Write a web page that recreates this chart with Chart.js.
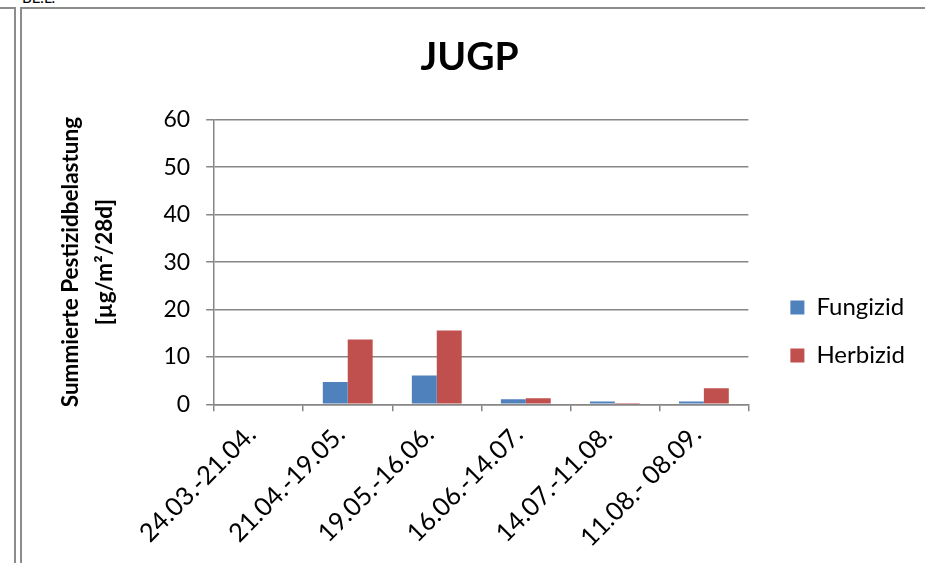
<!DOCTYPE html>
<html>
<head>
<meta charset="utf-8">
<script src="https://cdn.jsdelivr.net/npm/chart.js@4/dist/chart.umd.min.js"></script>
<style>
  html, body { margin: 0; padding: 0; background: #fff; }
  body { width: 925px; height: 563px; position: relative; overflow: hidden; font-family: Lato, sans-serif; }
  #wrap { position: absolute; left: 0; top: 0; width: 925px; height: 563px; }
  .ln { position: absolute; background: #8c8c8c; }
  .cut { position: absolute; left: 22px; top: -12px; font-size: 15px; color: #000; }
</style>
</head>
<body>
<div class="cut">BE.L.</div>
<div class="ln" style="left:0;top:7px;width:16px;height:2px"></div>
<div class="ln" style="left:20px;top:7px;width:905px;height:2px"></div>
<div class="ln" style="left:14px;top:7px;width:2px;height:556px"></div>
<div class="ln" style="left:20px;top:7px;width:2px;height:556px"></div>
<div id="wrap"><canvas id="chart" width="925" height="563"></canvas></div>
<script>
const categories = ['24.03.-21.04.', '21.04.-19.05.', '19.05.-16.06.', '16.06.-14.07.', '14.07.-11.08.', '11.08.- 08.09.'];
const fungizid = [0.2, 4.7, 6.1, 1.1, 0.6, 0.6];
const herbizid = [0, 13.7, 15.6, 1.3, 0.1, 3.4];
const yTicks = [0, 10, 20, 30, 40, 50, 60];

const gridColor = '#868686';
const font = 'Lato';

// moves title / legend boxes after layout so they sit like in the original
const nudge = {
  id: 'nudge',
  afterLayout(chart, args, opts) {
    const l = chart.legend;
    if (l) { l.left += opts.legendX; l.right += opts.legendX; l.top += opts.legendY; l.bottom += opts.legendY; }
    const t = chart.titleBlock;
    if (t) { t.left += opts.titleX; t.right += opts.titleX; }
  }
};

new Chart(document.getElementById('chart'), {
  type: 'bar',
  data: {
    labels: categories,
    datasets: [
      { label: 'Fungizid', data: fungizid, backgroundColor: '#4F81BD' },
      { label: 'Herbizid', data: herbizid, backgroundColor: '#C0504D' }
    ]
  },
  options: {
    responsive: false,
    animation: false,
    devicePixelRatio: 1,
    layout: { padding: { left: 6, right: 28, top: 0, bottom: 2 } },
    datasets: { bar: { barPercentage: 1, categoryPercentage: 0.56 } },
    plugins: {
      tooltip: { enabled: false },
      nudge: { legendX: 18, legendY: 51, titleX: 18 },
      title: {
        display: true,
        text: 'JUGP',
        color: '#000',
        font: { family: font, size: 39, weight: 'bold', lineHeight: 1.2 },
        padding: { top: 34, bottom: 39 }
      },
      legend: {
        position: 'right',
        labels: {
          color: '#000',
          font: { family: font, size: 24 },
          boxWidth: 14,
          boxHeight: 14,
          padding: 24
        }
      }
    },
    scales: {
      x: {
        grid: { drawOnChartArea: false, drawTicks: true, tickLength: 7, color: gridColor, lineWidth: 1.5 },
        border: { display: true, color: gridColor, width: 1.5 },
        ticks: { color: '#000', font: { family: font, size: 25.5 }, minRotation: 45, maxRotation: 45, padding: 8, labelOffset: -7 }
      },
      y: {
        min: 0,
        max: yTicks[yTicks.length - 1],
        afterBuildTicks: axis => { axis.ticks = yTicks.map(v => ({ value: v })); },
        grid: { color: gridColor, lineWidth: 1.5, tickLength: 8 },
        border: { display: true, color: gridColor, width: 1.5 },
        ticks: { color: '#000', font: { family: font, size: 23 }, padding: 16 },
        title: {
          display: true,
          text: ['Summierte Pestizidbelastung', '[µg/m²/28d]'],
          color: '#000',
          font: { family: font, size: 22.5, weight: 'bold', lineHeight: 1.5 },
          padding: { top: 48, bottom: 26 }
        }
      }
    }
  },
  plugins: [nudge]
});
</script>
</body>
</html>
